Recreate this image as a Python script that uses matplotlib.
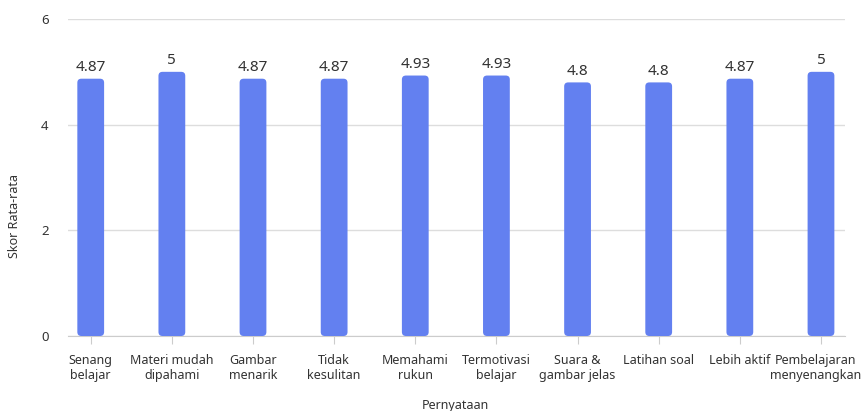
import matplotlib.pyplot as plt
import matplotlib.transforms as mtransforms
from matplotlib.patches import FancyBboxPatch

categories = ['Senang\nbelajar', 'Materi mudah\ndipahami', 'Gambar\nmenarik', 'Tidak\nkesulitan',
              'Memahami\nrukun', 'Termotivasi\nbelajar', 'Suara &\ngambar jelas', 'Latihan soal',
              'Lebih aktif', 'Pembelajaran\nmenyenangkan']
scores = [4.87, 5, 4.87, 4.87, 4.93, 4.93, 4.8, 4.8, 4.87, 5]
labels = ['4.87', '5', '4.87', '4.87', '4.93', '4.93', '4.8', '4.8', '4.87', '5']

plt.rcParams['font.family'] = ['Noto Sans', 'DejaVu Sans']
bar_color = '#6380f0'
text_color = '#333333'

fig = plt.figure(figsize=(8.64, 4.11), dpi=100)
ax = fig.add_axes([68/864, 1-336/411, 777/864, 317/411])

x = list(range(len(categories)))
bars = ax.bar(x, scores, width=0.33, color='none', zorder=3)
for b in bars:
    p = FancyBboxPatch((b.get_x(), 0), b.get_width(), b.get_height(),
                       boxstyle='round,pad=0,rounding_size=0.05',
                       mutation_aspect=1.5, facecolor=bar_color, edgecolor='none', zorder=3)
    ax.add_patch(p)

for xi, v, lab in zip(x, scores, labels):
    ax.text(xi, v + 0.07, lab, ha='center', va='bottom', fontsize=11, color=text_color)

ax.set_xlim(-0.28, 9.296)
ax.set_ylim(0, 6)
ax.set_yticks([0, 2, 4, 6])
ax.set_xticks(x)
ax.set_xticklabels(categories, fontsize=9, color=text_color, linespacing=1.15)
ax.tick_params(axis='y', length=0, pad=14, labelsize=9.5, labelcolor=text_color)
ax.tick_params(axis='x', length=6, color='#cccccc', pad=7)
ax.grid(axis='y', color='#dddddd', linewidth=1, zorder=0)
for s in ['top', 'right', 'left']:
    ax.spines[s].set_visible(False)
ax.spines['bottom'].set_color('#cccccc')

# nudge last label so it stays inside the figure
last = ax.get_xticklabels()[-1]
last.set_transform(last.get_transform() + mtransforms.ScaledTranslation(-5/100, 0, fig.dpi_scale_trans))

fig.text(15/864, 1-216/411, 'Skor Rata-rata', rotation=90, ha='center', va='center',
         fontsize=9, color=text_color)
fig.text(455/864, 1-405/411, 'Pernyataan', ha='center', va='center', fontsize=9, color=text_color)

fig.savefig('out.png', dpi=100)
